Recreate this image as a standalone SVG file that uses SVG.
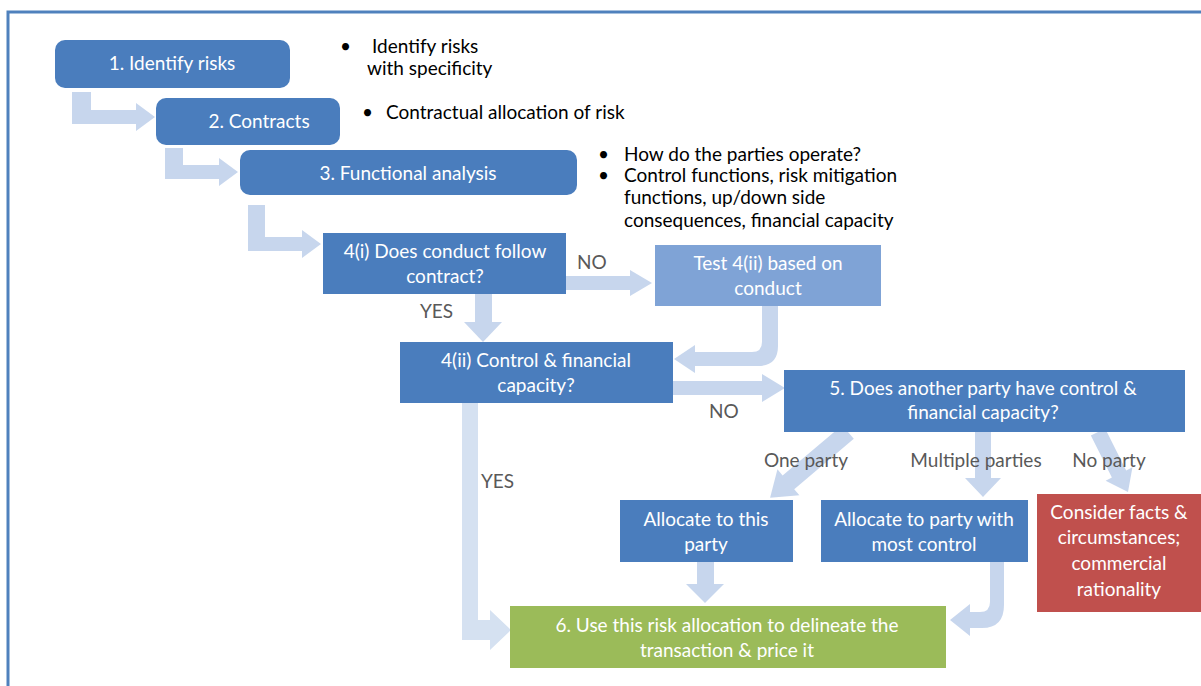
<svg xmlns="http://www.w3.org/2000/svg" width="1201" height="686" viewBox="0 0 1201 686">
<style>
.box{fill:#4a7dbd}
.lt{fill:#7fa3d6}
.red{fill:#c0504d}
.grn{fill:#9bbb59}
.t{font-family:Lato,"Liberation Sans",sans-serif;font-size:19px;fill:#fff;text-anchor:middle}
.b{font-family:Lato,"Liberation Sans",sans-serif;font-size:19px;fill:#000}
.lbl{font-family:Lato,"Liberation Sans",sans-serif;font-size:19px;fill:#595959}
.ar{fill:#b9cce8;opacity:0.8}
.ar2{fill:#d5e1f1}
</style>
<rect width="1201" height="686" fill="#fff"/>
<path d="M8,686 V12 H1201" fill="none" stroke="#4f81bd" stroke-width="3"/>
<g id="connectors">
<path class="ar" d="M72,92 H91 V110 H136 V103 L155,117 L136,131 V124 H72 Z"/>
<path class="ar" d="M165,148 H183 V165 H219 V158 L238,172 L219,186 V179 H165 Z"/>
<path class="ar" d="M248,205 H265 V237 H302 V230 L321,244 L302,258 V251 H248 Z"/>
<path class="ar" d="M566,276 H630 V270 L652,283 L630,296 V290 H566 Z"/>
<path class="ar" d="M475,294 H492 V322 H502 L483,342 L464,322 H475 Z"/>
<path class="ar" d="M762,306 H778 V346 Q778,366 758,366 H695 V373 L674,359 L695,345 V352 H752 Q762,352 762,342 Z"/>
<path class="ar" d="M673,381 H762 V374 L785,388 L762,402 V395 H673 Z"/>
<path class="ar" d="M0,-9 H78 V-17 L102,0 L78,17 V9 H0 Z" transform="translate(848,432) rotate(139.8)"/>
<path class="ar" d="M975,432 H991 V478 H1001 L983,497 L965,478 H975 Z"/>
<path class="ar" d="M0,-8 H47 V-15 L67,0 L47,15 V8 H0 Z" transform="translate(1098,432) rotate(63.4)"/>
<path class="ar" d="M697,562 H714 V584 H724 L705,603 L686,584 H697 Z"/>
<path class="ar" d="M990,562 H1004 V605 Q1004,628 982,628 H970 V636 L950,620 L970,604 V612 H980 Q990,612 990,602 Z"/>
<path class="ar2" d="M462,403 H478 V620 H490 V610 L511,630 L490,650 V640 H462 Z"/>
</g>
<g id="n1"><rect class="box" x="55" y="40" width="235" height="48" rx="10"/><text class="t" x="172" y="70">1. Identify risks</text></g>
<g id="note1"><text class="b" x="340" y="53" font-size="15">•</text><text class="b" x="372" y="53">Identify risks</text><text class="b" x="367" y="75">with specificity</text></g>
<g id="n2"><rect class="box" x="156" y="98" width="184" height="47" rx="10"/><text class="t" x="259" y="128">2. Contracts</text></g>
<g id="note2"><text class="b" x="362" y="119" font-size="15">•</text><text class="b" x="386" y="119">Contractual allocation of risk</text></g>
<g id="n3"><rect class="box" x="240" y="150" width="337" height="45" rx="10"/><text class="t" x="408" y="180">3. Functional analysis</text></g>
<g id="note3"><text class="b" x="598" y="161" font-size="15">•</text><text class="b" x="624" y="161">How do the parties operate?</text><text class="b" x="598" y="182" font-size="15">•</text><text class="b" x="624" y="182">Control functions, risk mitigation</text><text class="b" x="624" y="204">functions, up/down side</text><text class="b" x="624" y="227">consequences, financial capacity</text></g>
<g id="n4i"><rect class="box" x="323" y="233" width="243" height="61"/><text class="t" x="445" y="258">4(i) Does conduct follow</text><text class="t" x="445" y="283">contract?</text></g>
<g id="n4test"><rect class="lt" x="655" y="245" width="226" height="61"/><text class="t" x="768" y="270">Test 4(ii) based on</text><text class="t" x="768" y="295">conduct</text></g>
<g id="n4ii"><rect class="box" x="400" y="342" width="273" height="61"/><text class="t" x="536" y="367">4(ii) Control &amp; financial</text><text class="t" x="536" y="392">capacity?</text></g>
<g id="n5"><rect class="box" x="784" y="370" width="401" height="62"/><text class="t" x="983" y="395">5. Does another party have control &amp;</text><text class="t" x="983" y="419">financial capacity?</text></g>
<g id="n_this"><rect class="box" x="620" y="500" width="173" height="62"/><text class="t" x="706" y="526">Allocate to this</text><text class="t" x="706" y="551">party</text></g>
<g id="n_most"><rect class="box" x="821" y="500" width="207" height="62"/><text class="t" x="924" y="526">Allocate to party with</text><text class="t" x="924" y="551">most control</text></g>
<g id="n_none"><rect class="red" x="1037" y="494" width="164" height="118"/><text class="t" x="1119" y="519">Consider facts &amp;</text><text class="t" x="1119" y="544">circumstances;</text><text class="t" x="1119" y="570">commercial</text><text class="t" x="1119" y="596">rationality</text></g>
<g id="n6"><rect class="grn" x="510" y="606" width="436" height="62"/><text class="t" x="727" y="632">6. Use this risk allocation to delineate the</text><text class="t" x="727" y="657">transaction &amp; price it</text></g>
<g id="labels">
<text class="lbl" x="577" y="269">NO</text>
<text class="lbl" x="420" y="318">YES</text>
<text class="lbl" x="709" y="418">NO</text>
<text class="lbl" x="481" y="488">YES</text>
<text class="lbl" x="806" y="467" text-anchor="middle">One party</text>
<text class="lbl" x="976" y="467" text-anchor="middle">Multiple parties</text>
<text class="lbl" x="1109" y="467" text-anchor="middle">No party</text>
</g>
</svg>
